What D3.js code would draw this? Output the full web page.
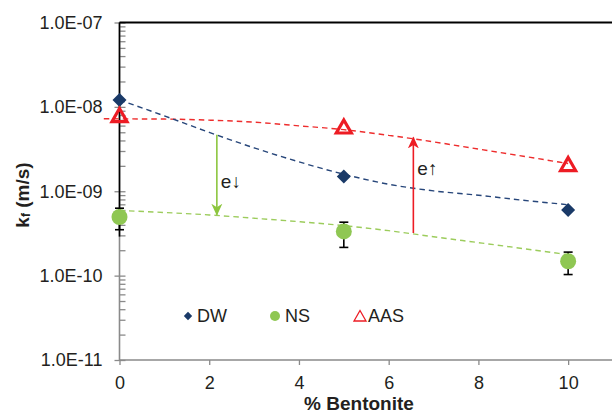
<!DOCTYPE html>
<head>
    <meta charset="utf-8">
    <style>
        body { margin: 0; background: #fff; }
        svg text { font-family: "Liberation Sans", Arial, sans-serif; fill: #231f20; }
    </style>
    <script src="https://d3js.org/d3.v7.min.js"></script>
</head>
<body>
<div id="chart"></div>
<script>

    // measured points
    var bentonite = [0, 5, 10];
    var dw  = [1.21e-8, 1.50e-9, 6.0e-10];
    var ns  = [4.95e-10, 3.34e-10, 1.48e-10];
    var nsHi = [6.3e-10, 4.3e-10, 1.9e-10];
    var nsLo = [3.5e-10, 2.16e-10, 1.03e-10];
    var aas = [8.0e-9, 5.85e-9, 2.1e-9];

    // dashed trend lines
    var trendX   = [0, 1, 2, 3, 4, 5, 6, 7, 8, 9, 10];
    var dwTrend  = [1.21e-8, 7.82e-9, 4.99e-9, 3.27e-9, 2.23e-9, 1.59e-9, 1.21e-9, 1.01e-9, 8.97e-10, 7.82e-10, 6.92e-10];
    var nsTrend  = [5.93e-10, 5.60e-10, 5.24e-10, 4.79e-10, 4.36e-10, 3.91e-10, 3.41e-10, 2.89e-10, 2.46e-10, 2.09e-10, 1.77e-10];
    var aasTrendX = [-0.35, 0, 1, 2, 3, 4, 5, 6, 7, 8, 9, 10];
    var aasTrend = [7.23e-9, 7.21e-9, 7.17e-9, 6.96e-9, 6.59e-9, 5.96e-9, 5.37e-9, 4.60e-9, 3.85e-9, 3.16e-9, 2.60e-9, 2.13e-9];

    // annotation arrows
    var arrows = [
        {x: 2.17, from: 4.67e-9, to: 5.27e-10, col: "#8dc63f", label: "e\u2193", ly: 1.31e-9},
        {x: 6.55, from: 3.2e-10, to: 4.34e-9, col: "#ed1c24", label: "e\u2191", ly: 1.85e-9}
    ];

    var xTicks = [0, 2, 4, 6, 8, 10];
    var yTicks = [1e-11, 1e-10, 1e-9, 1e-8, 1e-7];
    var yTickLabels = ["1.0E-11", "1.0E-10", "1.0E-09", "1.0E-08", "1.0E-07"];

    var W = 612, H = 414;
    var mLeft = 119.5, mRight = 613, mTop = 22.5, mBottom = 360;
    var fs = 18;

    var svg = d3.select("#chart").append("svg")
        .attr("width", W)
        .attr("height", H);

    var x = d3.scaleLinear().domain([0, 11]).range([mLeft, mRight]);
    var y = d3.scaleLog().domain([1e-11, 1e-7]).range([mBottom, mTop]);

    var defs = svg.append("defs");
    arrows.forEach(function(a, i) {
        defs.append("marker")
            .attr("id", "ah" + i)
            .attr("markerUnits", "userSpaceOnUse")
            .attr("viewBox", "0 0 12 12")
            .attr("refX", 11).attr("refY", 6)
            .attr("markerWidth", 12).attr("markerHeight", 12)
            .attr("orient", "auto")
            .append("path")
            .attr("d", "M0,0.5 L12,6 L0,11.5 L3.5,6 Z")
            .attr("fill", a.col);
    });

    // axes
    var grey = "#8a8a8a";

    var yMinor = y.ticks().filter(function(d) {
        return !yTicks.some(function(t) { return Math.abs(t - d) / t < 1e-6; });
    });

    svg.append("g")
        .attr("transform", "translate(" + mLeft + ",0)")
        .call(d3.axisRight(y).tickValues(yMinor).tickSize(6).tickFormat(""))
        .call(function(g) {
            g.select(".domain").remove();
            g.selectAll("line").attr("stroke", grey).attr("stroke-width", 1.3);
        });

    svg.append("g")
        .attr("transform", "translate(" + (mLeft + 6) + ",0)")
        .call(d3.axisLeft(y).tickValues(yTicks).tickSize(11).tickPadding(12)
            .tickFormat(function(d, i) { return yTickLabels[i]; }))
        .call(function(g) {
            g.select(".domain").remove();
            g.selectAll("line").attr("stroke", grey).attr("stroke-width", 1.3);
            g.selectAll("text").attr("font-size", fs).attr("fill", "#231f20")
                .attr("font-family", "Liberation Sans, Arial, sans-serif");
        });

    svg.append("g")
        .attr("transform", "translate(0," + mBottom + ")")
        .call(d3.axisBottom(x).tickValues(xTicks).tickSize(5).tickPadding(11))
        .call(function(g) {
            g.select(".domain").attr("stroke", grey).attr("stroke-width", 1.6)
                .attr("d", "M" + mLeft + ",0H" + W);
            g.selectAll("line").attr("stroke", grey).attr("stroke-width", 1.3);
            g.selectAll("text").attr("font-size", fs).attr("fill", "#231f20")
                .attr("font-family", "Liberation Sans, Arial, sans-serif");
        });

    // y axis line: grey with a black upper part, plus the black top rule
    svg.append("line")
        .attr("x1", mLeft).attr("x2", mLeft).attr("y1", mTop).attr("y2", mBottom)
        .attr("stroke", grey).attr("stroke-width", 1.6);
    svg.append("line")
        .attr("x1", mLeft).attr("x2", mLeft).attr("y1", mTop).attr("y2", y(2.9e-10))
        .attr("stroke", "#000").attr("stroke-width", 1.6);
    svg.append("line")
        .attr("x1", mLeft).attr("x2", W).attr("y1", mTop).attr("y2", mTop)
        .attr("stroke", "#000").attr("stroke-width", 2);

    // trend lines
    function trend(xs, vals, col) {
        svg.append("path")
            .datum(vals)
            .attr("fill", "none")
            .attr("stroke", col)
            .attr("stroke-width", 1.4)
            .attr("stroke-dasharray", "5.5,4")
            .attr("d", d3.line()
                .curve(d3.curveMonotoneX)
                .x(function(d, i) { return x(xs[i]); })
                .y(function(d) { return y(d); }));
    }
    trend(aasTrendX, aasTrend, "#ee2d2d");
    trend(trendX, dwTrend, "#27467a");
    trend(trendX, nsTrend, "#9ccc5c");

    // arrows
    arrows.forEach(function(a, i) {
        svg.append("line")
            .attr("x1", x(a.x)).attr("x2", x(a.x))
            .attr("y1", y(a.from)).attr("y2", y(a.to))
            .attr("stroke", a.col).attr("stroke-width", 1.6)
            .attr("marker-end", "url(#ah" + i + ")");
        svg.append("text")
            .attr("x", x(a.x) + 4)
            .attr("y", y(a.ly))
            .attr("dominant-baseline", "central")
            .attr("font-size", 19)
            .text(a.label);
    });

    // NS error bars
    var eb = svg.append("g").attr("stroke", "#000").attr("stroke-width", 1.6);
    bentonite.forEach(function(b, i) {
        eb.append("line").attr("x1", x(b)).attr("x2", x(b)).attr("y1", y(nsHi[i])).attr("y2", y(nsLo[i]));
        eb.append("line").attr("x1", x(b) - 4.5).attr("x2", x(b) + 4.5).attr("y1", y(nsHi[i])).attr("y2", y(nsHi[i]));
        eb.append("line").attr("x1", x(b) - 4.5).attr("x2", x(b) + 4.5).attr("y1", y(nsLo[i])).attr("y2", y(nsLo[i]));
    });

    // markers
    var diamond = d3.symbol().type(d3.symbolDiamond2);
    var triangle = "M0,-6.5 L7.5,6.5 L-7.5,6.5 Z";

    svg.append("g").selectAll("circle")
        .data(ns).enter().append("circle")
        .attr("cx", function(d, i) { return x(bentonite[i]); })
        .attr("cy", function(d) { return y(d); })
        .attr("r", 8)
        .attr("fill", "#8fc753");

    svg.append("g").selectAll("path")
        .data(dw).enter().append("path")
        .attr("d", diamond.size(125))
        .attr("transform", function(d, i) { return "translate(" + x(bentonite[i]) + "," + y(d) + ")"; })
        .attr("fill", "#1a3a68");

    svg.append("g").selectAll("path")
        .data(aas).enter().append("path")
        .attr("d", triangle)
        .attr("transform", function(d, i) { return "translate(" + x(bentonite[i]) + "," + y(d) + ")"; })
        .attr("fill", "none")
        .attr("stroke", "#ed1c24")
        .attr("stroke-width", 3.2)
        .attr("stroke-linejoin", "miter");

    // legend
    var lg = svg.append("g").attr("transform", "translate(0,316)");
    lg.append("path").attr("d", diamond.size(45)).attr("transform", "translate(188,0)").attr("fill", "#1a3a68");
    lg.append("text").attr("x", 197).attr("dominant-baseline", "central").attr("font-size", fs).text("DW");
    lg.append("circle").attr("cx", 275).attr("r", 5).attr("fill", "#8fc753");
    lg.append("text").attr("x", 285).attr("dominant-baseline", "central").attr("font-size", fs).text("NS");
    lg.append("path").attr("d", "M0,-5.5 L6,5 L-6,5 Z").attr("transform", "translate(360,0)")
        .attr("fill", "none").attr("stroke", "#ed1c24").attr("stroke-width", 1.3);
    lg.append("text").attr("x", 368).attr("dominant-baseline", "central").attr("font-size", fs).text("AAS");

    // axis titles
    svg.append("text")
        .attr("x", 359).attr("y", 403)
        .attr("text-anchor", "middle")
        .attr("dominant-baseline", "central")
        .attr("font-size", 19).attr("font-weight", "bold")
        .text("% Bentonite");

    var yl = svg.append("text")
        .attr("transform", "translate(22,195) rotate(-90)")
        .attr("text-anchor", "middle")
        .attr("dominant-baseline", "central")
        .attr("font-size", 19).attr("font-weight", "bold");
    yl.append("tspan").text("k");
    yl.append("tspan").attr("font-size", 12).attr("dy", 4).text("f");
    yl.append("tspan").attr("dy", -4).text(" (m/s)");

</script>
</body>
